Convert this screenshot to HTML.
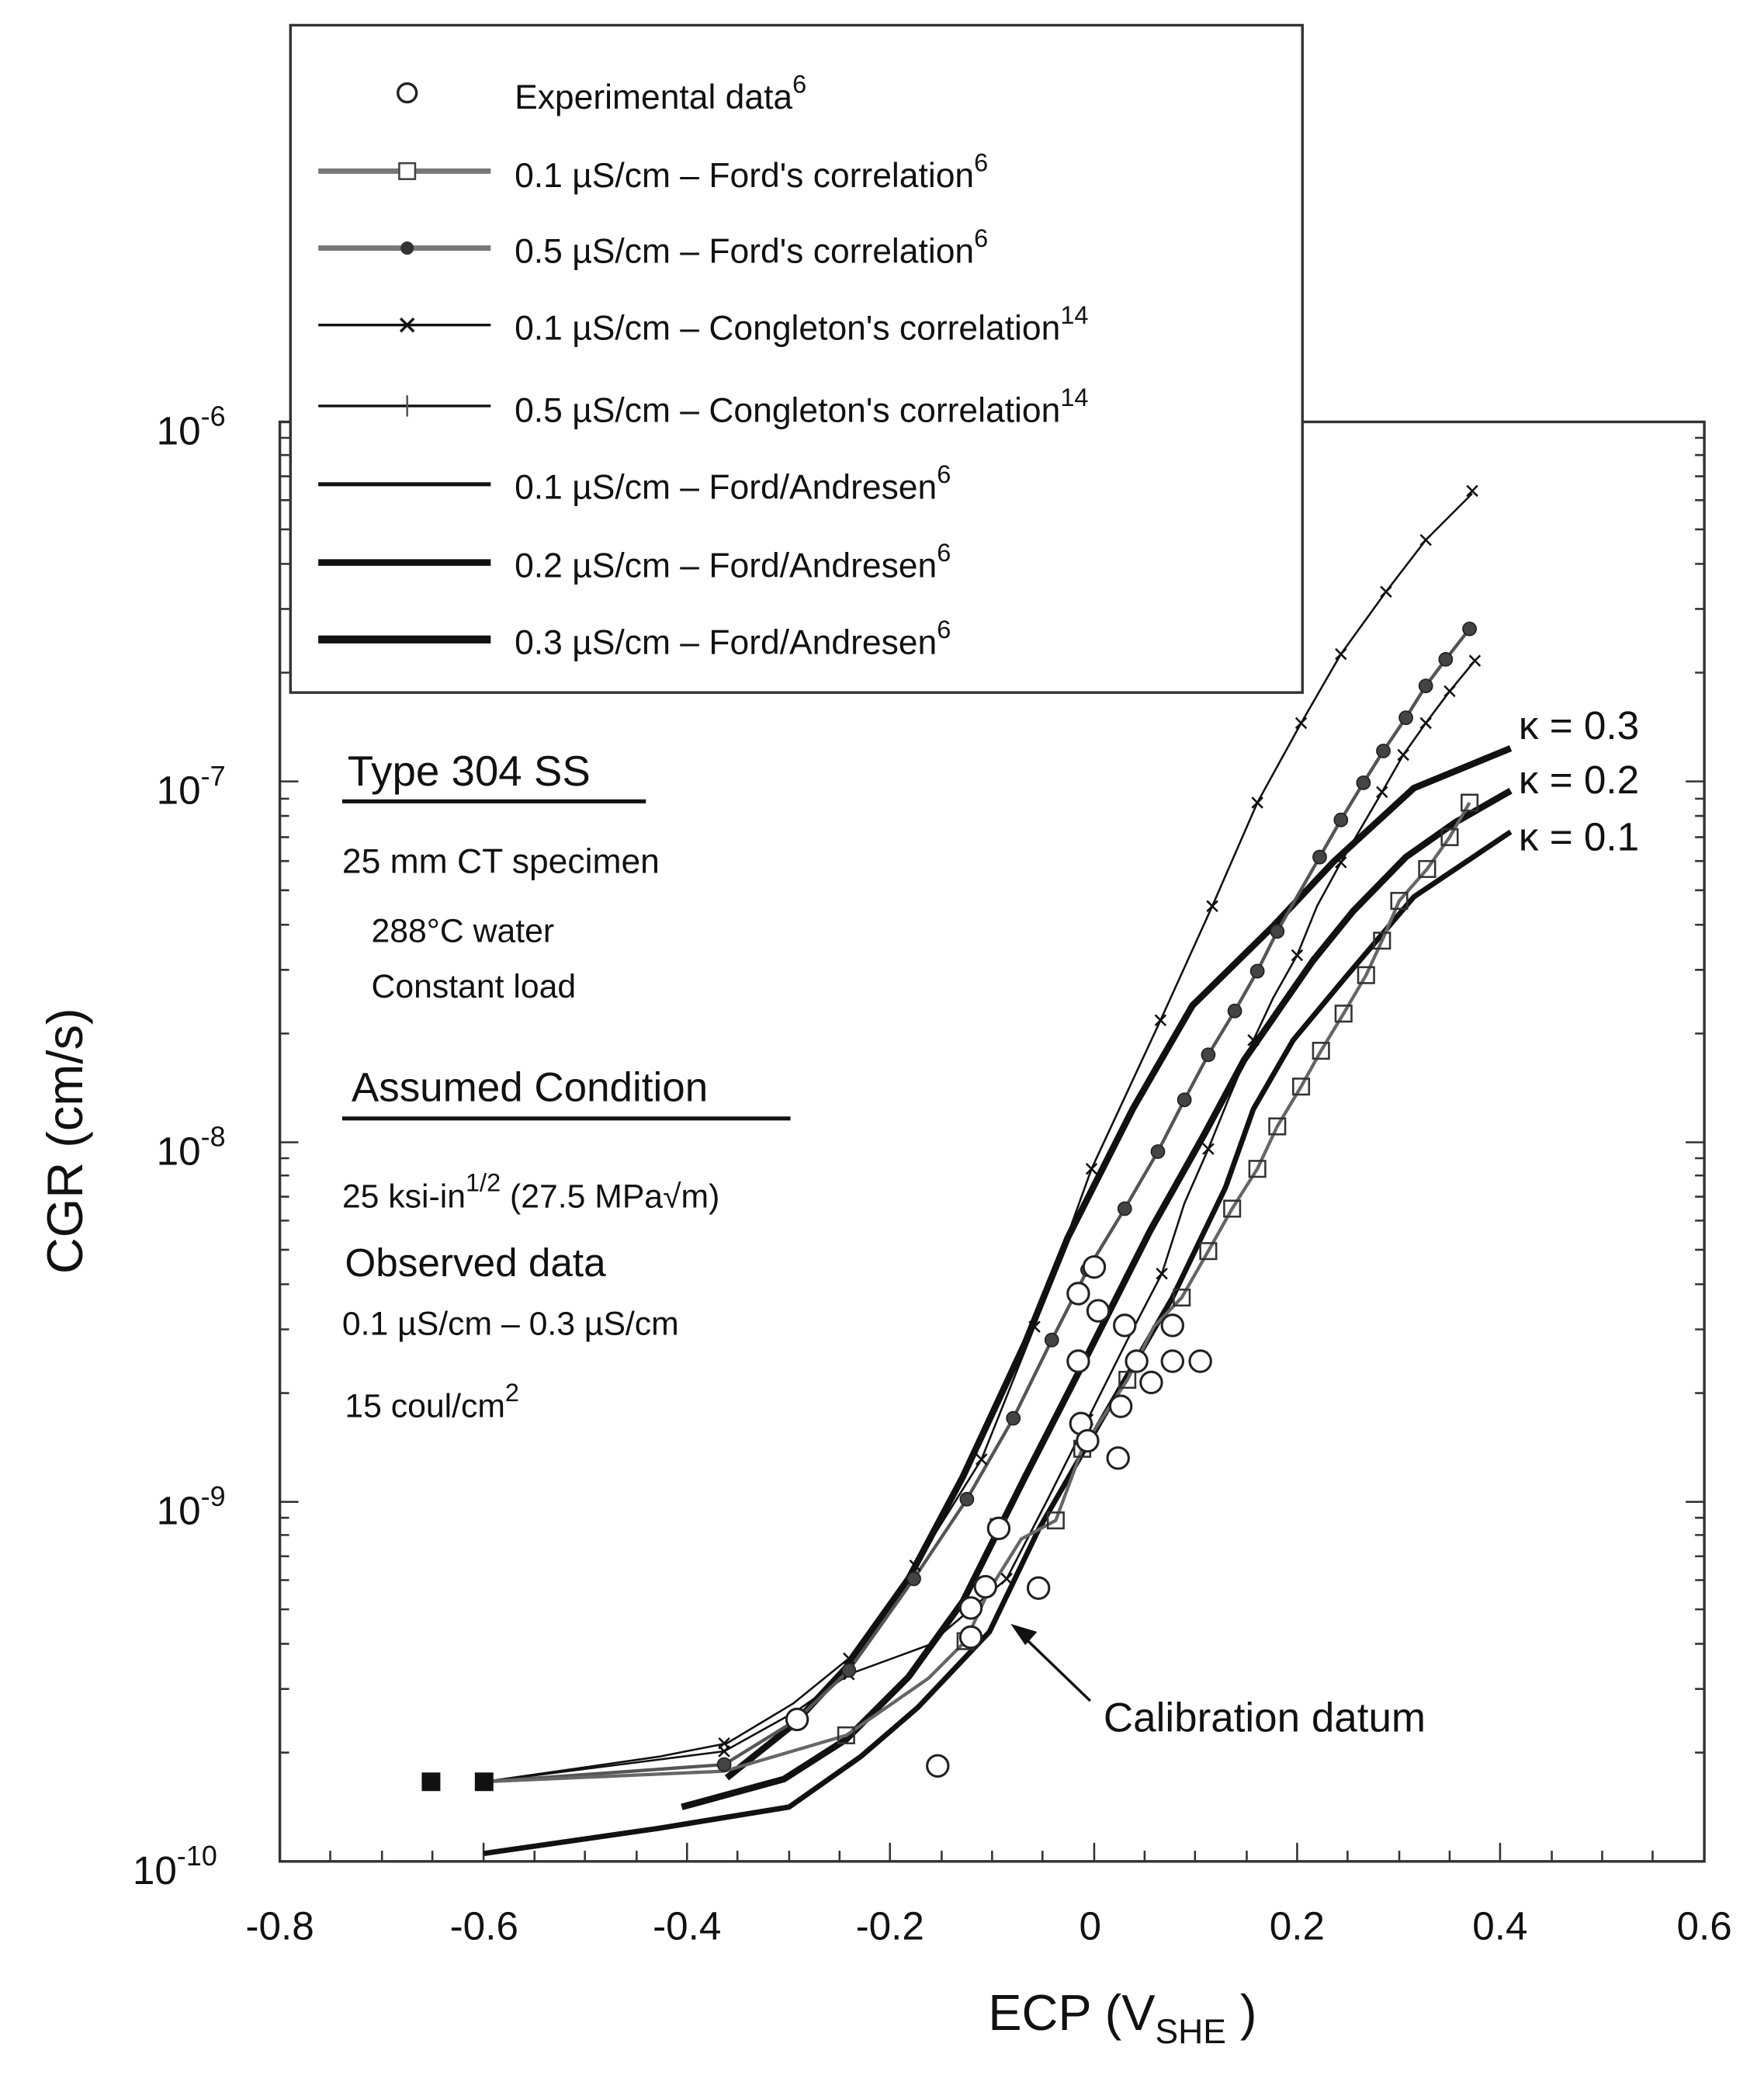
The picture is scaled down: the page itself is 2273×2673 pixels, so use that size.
<!DOCTYPE html>
<html><head><style>html,body{margin:0;padding:0;background:#fff}svg{display:block}</style></head><body>
<svg width="2273" height="2673" viewBox="0 0 1330 1564" preserveAspectRatio="none" xmlns="http://www.w3.org/2000/svg" font-family="Liberation Sans, sans-serif">
<rect width="1330" height="1564" fill="#fff"/>
<rect x="211" y="318" width="1074" height="1085" fill="none" stroke="#333" stroke-width="2"/>
<g stroke="#333" stroke-width="1.5">
<path d="M211,1403v-10M249,1403v-8M288,1403v-8M326,1403v-8M364.6,1403v-14M403,1403v-8M441,1403v-8M480,1403v-8M518,1403v-14M556,1403v-8M595,1403v-8M633,1403v-8M671,1403v-14M710,1403v-8M748,1403v-8M786,1403v-8M825,1403v-14M863,1403v-8M901,1403v-8M940,1403v-8M978,1403v-14M1016,1403v-8M1055,1403v-8M1093,1403v-8M1131,1403v-14M1170,1403v-8M1208,1403v-8M1246,1403v-8"/>
<path d="M211,318h14M211,589h14M211,861h14M211,1132h14M1285,318h-14M1285,589h-14M1285,861h-14M1285,1132h-14"/>
<path d="M211,1321h7M211,1273h7M211,1239h7M211,1213h7M211,1191h7M211,1173h7M211,1157h7M211,1144h7
M211,1050h7M211,1002h7M211,968h7M211,942h7M211,920h7M211,902h7M211,886h7M211,873h7
M211,779h7M211,731h7M211,697h7M211,671h7M211,649h7M211,631h7M211,615h7M211,602h7
M211,507h7M211,459h7M211,425h7M211,399h7M211,377h7M211,359h7M211,343h7M211,330h7
M1285,1321h-7M1285,1273h-7M1285,1239h-7M1285,1213h-7M1285,1191h-7M1285,1173h-7M1285,1157h-7M1285,1144h-7
M1285,1050h-7M1285,1002h-7M1285,968h-7M1285,942h-7M1285,920h-7M1285,902h-7M1285,886h-7M1285,873h-7
M1285,779h-7M1285,731h-7M1285,697h-7M1285,671h-7M1285,649h-7M1285,631h-7M1285,615h-7M1285,602h-7
M1285,507h-7M1285,459h-7M1285,425h-7M1285,399h-7M1285,377h-7M1285,359h-7M1285,343h-7M1285,330h-7"/>
</g>
<g font-size="30" fill="#111" text-anchor="middle">
<text x="211" y="1462">-0.8</text><text x="365" y="1462">-0.6</text><text x="518" y="1462">-0.4</text><text x="671" y="1462">-0.2</text><text x="822" y="1462">0</text><text x="978" y="1462">0.2</text><text x="1131" y="1462">0.4</text><text x="1285" y="1462">0.6</text>
</g>
<g font-size="30" fill="#111">
<text x="118" y="335">10<tspan dy="-14" font-size="21">-6</tspan></text>
<text x="118" y="606">10<tspan dy="-14" font-size="21">-7</tspan></text>
<text x="118" y="878">10<tspan dy="-14" font-size="21">-8</tspan></text>
<text x="118" y="1149">10<tspan dy="-14" font-size="21">-9</tspan></text>
<text x="100" y="1420">10<tspan dy="-14" font-size="21">-10</tspan></text>
</g>
<text x="745" y="1530" font-size="38" fill="#111">ECP  (V<tspan font-size="26" dy="10">SHE</tspan><tspan dy="-10"> )</tspan></text>
<text transform="translate(62,860) rotate(-90)" font-size="38" fill="#111" text-anchor="middle">CGR (cm/s)</text>

<g fill="none" stroke-linejoin="round">
<!-- kappa 0.3 -->
<polyline stroke="#111" stroke-width="5" points="548,1340 598,1300 638,1257 685,1190 726,1113 773,1012 805,933 854,836 899,758 960,698 1005,650 1066,594 1139,564"/>
<!-- kappa 0.2 -->
<polyline stroke="#111" stroke-width="5" points="514,1362 591,1341 638,1311 685,1264 726,1207 773,1113 816,1029 867,928 908,855 938,799 990,724 1020,687 1060,646 1097,620 1139,596"/>
<!-- kappa 0.1 -->
<polyline stroke="#111" stroke-width="4" points="365,1397 497,1378 595,1362 649,1324 692,1287 746,1230 783,1153 833,1066 884,978 924,895 945,836 975,784 1015,736 1066,676 1139,627"/>
<!-- Congleton 0.5 -->
<polyline stroke="#111" stroke-width="1.5" points="365,1343 497,1324 548,1314 598,1284 640,1250 690,1180 740,1100 780,1000 823,881 875,769 914,683 948,605 981,545 1011,493 1045,446 1075,407 1110,372"/>
<!-- Congleton 0.1 -->
<polyline stroke="#111" stroke-width="1.5" points="365,1343 546,1320 600,1290 640,1262 700,1240 759,1190 790,1130 820,1070 850,1010 876,960 893,907 911,866 926,829 945,784 960,752 978,720 993,683 1011,650 1042,597 1058,569 1075,545 1093,521 1112,498"/>
<!-- Ford 0.5 -->
<polyline stroke="#555" stroke-width="2.5" points="365,1343 546,1330 601,1296 640,1259 689,1190 729,1130 764,1069 793,1010 820,957 848,911 873,868 893,829 911,795 931,762 948,732 963,702 995,646 1011,618 1028,590 1043,566 1060,541 1075,517 1090,497 1108,474"/>
<!-- Ford 0.1 -->
<polyline stroke="#666" stroke-width="2.5" points="365,1343 546,1335 638,1308 700,1265 728,1237 745,1200 770,1160 796,1146 816,1092 850,1040 870,1000 891,978 911,943 929,911 948,881 963,849 981,819 996,792 1013,764 1030,735 1042,709 1055,679 1076,655 1093,631 1108,605"/>
</g>
<g fill="#111"><rect x="318" y="1336" width="14" height="14"/><rect x="358" y="1336" width="14" height="14"/></g>
<g stroke="#111" stroke-width="1.5" fill="none">
<path d="M1106,366l8,8m0,-8l-8,8M1071,403l8,8m0,-8l-8,8M1041,442l8,8m0,-8l-8,8M1007,489l8,8m0,-8l-8,8M977,541l8,8m0,-8l-8,8M944,601l8,8m0,-8l-8,8M910,679l8,8m0,-8l-8,8M871,765l8,8m0,-8l-8,8M819,877l8,8m0,-8l-8,8M776,996l8,8m0,-8l-8,8M736,1096l8,8m0,-8l-8,8M686,1176l8,8m0,-8l-8,8M636,1246l8,8m0,-8l-8,8M542,1310l8,8m0,-8l-8,8"/>
<path d="M1108,494l8,8m0,-8l-8,8M1089,517l8,8m0,-8l-8,8M1071,541l8,8m0,-8l-8,8M1054,565l8,8m0,-8l-8,8M1038,593l8,8m0,-8l-8,8M1007,646l8,8m0,-8l-8,8M974,716l8,8m0,-8l-8,8M941,780l8,8m0,-8l-8,8M907,862l8,8m0,-8l-8,8M872,956l8,8m0,-8l-8,8M816,1066l8,8m0,-8l-8,8M755,1186l8,8m0,-8l-8,8M636,1258l8,8m0,-8l-8,8M542,1316l8,8m0,-8l-8,8"/>
</g>
<g fill="#444" stroke="#222" stroke-width="1">
<circle cx="546" cy="1330" r="5"/><circle cx="640" cy="1259" r="5"/><circle cx="689" cy="1190" r="5"/><circle cx="729" cy="1130" r="5"/><circle cx="764" cy="1069" r="5"/><circle cx="793" cy="1010" r="5"/><circle cx="820" cy="957" r="5"/><circle cx="848" cy="911" r="5"/><circle cx="873" cy="868" r="5"/><circle cx="893" cy="829" r="5"/><circle cx="911" cy="795" r="5"/><circle cx="931" cy="762" r="5"/><circle cx="948" cy="732" r="5"/><circle cx="963" cy="702" r="5"/><circle cx="995" cy="646" r="5"/><circle cx="1011" cy="618" r="5"/><circle cx="1028" cy="590" r="5"/><circle cx="1043" cy="566" r="5"/><circle cx="1060" cy="541" r="5"/><circle cx="1075" cy="517" r="5"/><circle cx="1090" cy="497" r="5"/><circle cx="1108" cy="474" r="5"/>
</g>
<g fill="none" stroke="#333" stroke-width="1.5">
<rect x="632" y="1302" width="12" height="12"/><rect x="722" y="1231" width="12" height="12"/><rect x="747" y="1145" width="12" height="12"/><rect x="790" y="1140" width="12" height="12"/><rect x="810" y="1086" width="12" height="12"/><rect x="844" y="1034" width="12" height="12"/><rect x="885" y="972" width="12" height="12"/><rect x="905" y="937" width="12" height="12"/><rect x="923" y="905" width="12" height="12"/><rect x="942" y="875" width="12" height="12"/><rect x="957" y="843" width="12" height="12"/><rect x="975" y="813" width="12" height="12"/><rect x="990" y="786" width="12" height="12"/><rect x="1007" y="758" width="12" height="12"/><rect x="1024" y="729" width="12" height="12"/><rect x="1036" y="703" width="12" height="12"/><rect x="1049" y="673" width="12" height="12"/><rect x="1070" y="649" width="12" height="12"/><rect x="1087" y="625" width="12" height="12"/><rect x="1102" y="599" width="12" height="12"/>
</g>
<g fill="#fff" stroke="#222" stroke-width="1.8">
<circle cx="601" cy="1296" r="8"/><circle cx="707" cy="1331" r="8"/><circle cx="783" cy="1197" r="8"/><circle cx="732" cy="1212" r="8"/><circle cx="743" cy="1196" r="8"/><circle cx="753" cy="1152" r="8"/><circle cx="732" cy="1234" r="8"/><circle cx="843" cy="1099" r="8"/><circle cx="813" cy="975" r="8"/><circle cx="828" cy="988" r="8"/><circle cx="848" cy="999" r="8"/><circle cx="884" cy="999" r="8"/><circle cx="884" cy="1026" r="8"/><circle cx="905" cy="1026" r="8"/><circle cx="868" cy="1042" r="8"/><circle cx="857" cy="1026" r="8"/><circle cx="813" cy="1026" r="8"/><circle cx="815" cy="1073" r="8"/><circle cx="820" cy="1086" r="8"/><circle cx="845" cy="1060" r="8"/><circle cx="825" cy="955" r="8"/>
</g>
<g font-size="30" fill="#111">
<text x="1145" y="557">κ = 0.3</text><text x="1145" y="598">κ = 0.2</text><text x="1145" y="641">κ = 0.1</text>
</g>
<path d="M822,1282L768,1230" stroke="#111" stroke-width="2"/>
<path d="M762,1224l20,6l-9,10z" fill="#111"/>
<text x="832" y="1305" font-size="31" fill="#111">Calibration datum</text>
<g fill="#111">
<text x="262" y="592" font-size="32">Type 304 SS</text>
<line x1="258" y1="604" x2="487" y2="604" stroke="#111" stroke-width="3"/>
<text x="258" y="658" font-size="26">25 mm CT specimen</text>
<text x="280" y="710" font-size="25">288°C water</text>
<text x="280" y="752" font-size="25">Constant load</text>
<text x="265" y="830" font-size="31">Assumed Condition</text>
<line x1="258" y1="843" x2="596" y2="843" stroke="#111" stroke-width="3"/>
<text x="258" y="910" font-size="25">25 ksi-in<tspan font-size="19" dy="-12">1/2</tspan><tspan dy="12"> (27.5 MPa√m)</tspan></text>
<text x="260" y="962" font-size="30">Observed data</text>
<text x="258" y="1006" font-size="25">0.1 µS/cm – 0.3 µS/cm</text>
<text x="260" y="1068" font-size="25">15 coul/cm<tspan font-size="19" dy="-12">2</tspan></text>
</g>
<rect x="219" y="19" width="763" height="503" fill="#fff" stroke="#333" stroke-width="2"/>
<g fill="#111" font-size="26">
<circle cx="307" cy="70" r="7" fill="none" stroke="#222" stroke-width="2"/>
<text x="388" y="82">Experimental data<tspan font-size="19" dy="-12">6</tspan></text>
<line x1="240" y1="129" x2="370" y2="129" stroke="#777" stroke-width="4"/>
<rect x="301" y="123" width="12" height="12" fill="#fff" stroke="#444" stroke-width="1.5"/>
<text x="388" y="141">0.1 µS/cm – Ford's correlation<tspan font-size="19" dy="-12">6</tspan></text>
<line x1="240" y1="187" x2="370" y2="187" stroke="#777" stroke-width="4"/>
<circle cx="307" cy="187" r="5" fill="#333"/>
<text x="388" y="198">0.5 µS/cm – Ford's correlation<tspan font-size="19" dy="-12">6</tspan></text>
<line x1="240" y1="245" x2="370" y2="245" stroke="#111" stroke-width="2"/>
<path d="M302,240l10,10m0,-10l-10,10" stroke="#111" stroke-width="2"/>
<text x="388" y="256">0.1 µS/cm – Congleton's correlation<tspan font-size="19" dy="-12">14</tspan></text>
<line x1="240" y1="306" x2="370" y2="306" stroke="#111" stroke-width="2"/>
<line x1="307" y1="298" x2="307" y2="314" stroke="#555" stroke-width="1.5"/>
<text x="388" y="318">0.5 µS/cm – Congleton's correlation<tspan font-size="19" dy="-12">14</tspan></text>
<line x1="240" y1="365" x2="370" y2="365" stroke="#111" stroke-width="3"/>
<text x="388" y="376">0.1 µS/cm – Ford/Andresen<tspan font-size="19" dy="-12">6</tspan></text>
<line x1="240" y1="424" x2="370" y2="424" stroke="#111" stroke-width="5"/>
<text x="388" y="435">0.2 µS/cm – Ford/Andresen<tspan font-size="19" dy="-12">6</tspan></text>
<line x1="240" y1="482" x2="370" y2="482" stroke="#111" stroke-width="6"/>
<text x="388" y="493">0.3 µS/cm – Ford/Andresen<tspan font-size="19" dy="-12">6</tspan></text>
</g>
</svg>
</body></html>
